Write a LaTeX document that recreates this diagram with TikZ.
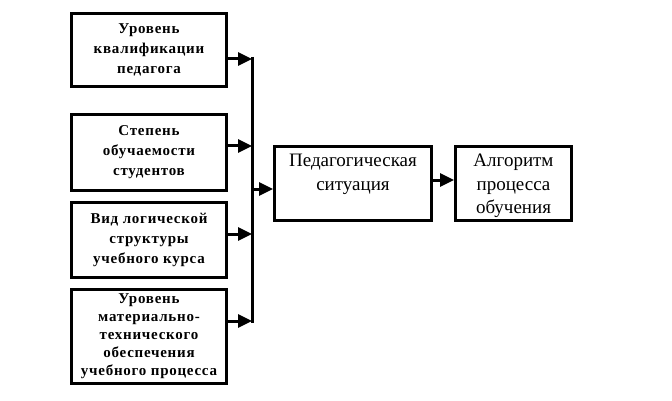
\documentclass[tikz,border=0pt]{standalone}
\usepackage{fontspec}
\setmainfont{Liberation Serif}
\newfontfamily\leftfont[LetterSpace=5]{Liberation Serif}
\usetikzlibrary{arrows.meta}
\tikzset{
  box/.style={draw, line width=3pt, inner sep=0pt, align=center},
  lbox/.style={box, minimum width=155pt, font=\leftfont\bfseries\fontsize{15}{20}\selectfont},
  rbox/.style={box},
  rtext/.style={inner sep=0pt, align=center, font=\fontsize{19}{23.5}\selectfont},
  conn/.style={line width=3pt},
  arr/.style={line width=3pt, -{Triangle[length=14pt,width=13pt]}},
}
\begin{document}
\begin{tikzpicture}[x=1pt,y=-1pt]
\useasboundingbox (0,0) rectangle (672,401);
\node[lbox, minimum height=73pt] (b1) at (149,50) {Уровень\\квалификации\\педагога};
\node[lbox, minimum height=76pt] (b2) at (149,152.5) {Степень\\обучаемости\\студентов};
\node[lbox, minimum height=75pt] (b3) at (149,240) {Вид логической\\структуры\\учебного курса};
\node[lbox, minimum height=94pt, font=\leftfont\bfseries\fontsize{15}{18}\selectfont] (b4) at (149,336.5) {Уровень\\материально-\\технического\\обеспечения\\учебного процесса};
\node[rbox, minimum width=157pt, minimum height=74pt] (ps) at (353,183.5) {};
\node[rtext] (pst) at (353,174.5) {Педагогическая\\ситуация};
\node[rbox, minimum width=116pt, minimum height=74pt] (al) at (513.5,183.5) {};
\node[rtext] (alt) at (513.5,186) {Алгоритм\\процесса\\обучения};
\coordinate (bt) at (252,57);
\coordinate (bb) at (252,323);
\draw[conn] (bt) -- (bb);
\draw[arr] ([yshift=-9pt]b1.east) -- ([yshift=-9pt]b1.east -| bt);
\draw[arr] ([yshift=6.5pt]b2.east) -- ([yshift=6.5pt]b2.east -| bt);
\draw[arr] ([yshift=6pt]b3.east) -- ([yshift=6pt]b3.east -| bt);
\draw[arr] ([yshift=15.5pt]b4.east) -- ([yshift=15.5pt]b4.east -| bt);
\draw[arr] ([yshift=-5.5pt]ps.west -| bt) -- ([yshift=-5.5pt]ps.west);
\draw[arr] ([yshift=3.5pt]ps.east) -- ([yshift=3.5pt]al.west);
\end{tikzpicture}
\end{document}
